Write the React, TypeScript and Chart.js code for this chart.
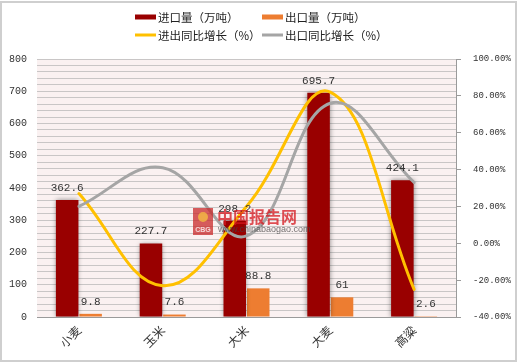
import React, { useEffect, useRef } from 'react';
import { Chart, registerables } from 'chart.js';

Chart.register(...registerables);

const categories = ['小麦', '玉米', '大米', '大麦', '高粱'];
const importVolume = [362.6, 227.7, 298.2, 695.7, 424.1];
const exportVolume = [9.8, 7.6, 88.8, 61, 2.6];
const importExportGrowth = [27, -23, 20, 82, -25];
const exportGrowth = [20, 41, 4, 76, 33];
const seriesNames = ['进口量（万吨）', '出口量（万吨）', '进出同比增长（%）', '出口同比增长（%）'];
const seriesColors = ['#990000', '#ED7D31', '#FFC000', '#A5A5A5'];
const leftAxis = { min: 0, max: 800, step: 20, labelStep: 100 };
const rightAxis = { min: -40, max: 100, step: 20 };
const watermarkTitle = '中国报告网';
const watermarkUrl = 'www.chinabaogao.com';

const CJK = '"Noto Sans CJK SC", "Noto Sans", sans-serif';
const MONO = '"Liberation Mono", "DejaVu Sans Mono", monospace';

const backgroundPlugin = {
  id: 'bgPlugin',
  beforeDraw(chart: any) {
    const { ctx, chartArea, width, height } = chart;
    ctx.save();
    ctx.fillStyle = '#ffffff';
    ctx.fillRect(0, 0, width, height);
    ctx.fillStyle = '#FAF1F1';
    ctx.fillRect(chartArea.left, chartArea.top, chartArea.right - chartArea.left, chartArea.bottom - chartArea.top);
    ctx.restore();
  },
};

const shadowPlugin = {
  id: 'shadowPlugin',
  beforeDatasetDraw(chart: any, args: any) {
    if (args.index === 0) {
      const ctx = chart.ctx;
      ctx.save();
      ctx.shadowColor = 'rgba(0,0,0,0.45)';
      ctx.shadowBlur = 5;
      ctx.shadowOffsetX = 0;
      ctx.shadowOffsetY = 0;
    }
  },
  afterDatasetDraw(chart: any, args: any) {
    if (args.index === 0) chart.ctx.restore();
  },
};

const labelPlugin = {
  id: 'labelPlugin',
  afterDatasetsDraw(chart: any) {
    const ctx = chart.ctx;
    ctx.save();
    ctx.font = '11px ' + MONO;
    ctx.fillStyle = '#333333';
    ctx.textAlign = 'center';
    ctx.textBaseline = 'middle';
    [0, 1].forEach((di) => {
      const meta = chart.getDatasetMeta(di);
      const data = chart.data.datasets[di].data as number[];
      meta.data.forEach((el: any, i: number) => {
        ctx.fillText(String(data[i]), el.x, el.y - 12);
      });
    });
    ctx.restore();
  },
};

const legendPlugin = {
  id: 'customLegend',
  afterDraw(chart: any) {
    const ctx = chart.ctx;
    ctx.save();
    ctx.font = '11.5px ' + CJK;
    ctx.textBaseline = 'middle';
    ctx.textAlign = 'left';
    const cols = [135, 262];
    const rows = [17, 35];
    seriesNames.forEach((name, i) => {
      const x = cols[i % 2];
      const y = rows[Math.floor(i / 2)];
      if (i < 2) {
        ctx.fillStyle = seriesColors[i];
        ctx.fillRect(x, y - 2.5, 21, 5);
      } else {
        ctx.strokeStyle = seriesColors[i];
        ctx.lineWidth = 3;
        ctx.beginPath();
        ctx.moveTo(x, y);
        ctx.lineTo(x + 21, y);
        ctx.stroke();
      }
      ctx.fillStyle = '#222222';
      ctx.fillText(name, x + 23, y + 0.5);
    });
    ctx.restore();
  },
};

const watermarkPlugin = {
  id: 'watermark',
  afterDraw(chart: any) {
    const ctx = chart.ctx;
    ctx.save();
    ctx.globalAlpha = 0.75;
    ctx.fillStyle = '#C8282A';
    ctx.fillRect(193, 208, 20, 27);
    ctx.fillStyle = '#F5C242';
    ctx.beginPath();
    ctx.arc(203, 217, 5, 0, Math.PI * 2);
    ctx.fill();
    ctx.fillStyle = '#ffffff';
    ctx.font = 'bold 7px "Liberation Sans", sans-serif';
    ctx.textAlign = 'center';
    ctx.textBaseline = 'middle';
    ctx.fillText('CBG', 203, 230);
    ctx.fillStyle = '#D4161C';
    ctx.font = 'bold 16px ' + CJK;
    ctx.textAlign = 'left';
    ctx.fillText(watermarkTitle, 217, 217);
    ctx.fillStyle = '#444444';
    ctx.font = '9px "Liberation Sans", sans-serif';
    ctx.fillText(watermarkUrl, 218, 230);
    ctx.restore();
  },
};

export default function App() {
  const canvasRef = useRef<HTMLCanvasElement | null>(null);

  useEffect(() => {
    if (!canvasRef.current) return;
    const chart = new Chart(canvasRef.current, {
      data: {
        labels: categories,
        datasets: [
          {
            type: 'bar',
            label: seriesNames[0],
            data: importVolume,
            backgroundColor: seriesColors[0],
            yAxisID: 'y',
            categoryPercentage: 0.56,
            barPercentage: 0.96,
            order: 2,
          },
          {
            type: 'bar',
            label: seriesNames[1],
            data: exportVolume,
            backgroundColor: seriesColors[1],
            yAxisID: 'y',
            categoryPercentage: 0.56,
            barPercentage: 0.96,
            order: 2,
          },
          {
            type: 'line',
            label: seriesNames[2],
            data: importExportGrowth,
            borderColor: seriesColors[2],
            backgroundColor: seriesColors[2],
            borderWidth: 3,
            pointRadius: 0,
            tension: 0.4,
            borderCapStyle: 'round',
            yAxisID: 'y1',
            order: 1,
          },
          {
            type: 'line',
            label: seriesNames[3],
            data: exportGrowth,
            borderColor: seriesColors[3],
            backgroundColor: seriesColors[3],
            borderWidth: 3,
            pointRadius: 0,
            tension: 0.4,
            borderCapStyle: 'round',
            yAxisID: 'y1',
            order: 0,
          },
        ],
      } as any,
      options: {
        animation: false,
        responsive: true,
        maintainAspectRatio: false,
        devicePixelRatio: 1,
        layout: { padding: { top: 59, left: 0, right: 0, bottom: 0 } },
        plugins: {
          legend: { display: false },
          tooltip: { enabled: false },
        },
        scales: {
          x: {
            grid: { display: false, drawTicks: false },
            border: { display: true, color: '#9a9a9a' },
            ticks: {
              minRotation: 45,
              maxRotation: 45,
              padding: 6,
              color: '#333333',
              font: { family: CJK, size: 12 },
            },
            afterFit: (s: any) => { s.height = 47; },
          },
          y: {
            position: 'left',
            min: leftAxis.min,
            max: leftAxis.max,
            grid: { color: '#c9c6c6', drawTicks: false },
            border: { display: false },
            ticks: {
              stepSize: leftAxis.step,
              autoSkip: false,
              padding: 10,
              color: '#333333',
              font: { family: MONO, size: 10 },
              callback: (v: any) => (Number(v) % leftAxis.labelStep === 0 ? String(v) : ''),
            },
            afterFit: (s: any) => { s.width = 37; },
          },
          y1: {
            position: 'right',
            min: rightAxis.min,
            max: rightAxis.max,
            grid: { drawOnChartArea: false, tickLength: 5, color: '#9a9a9a' },
            border: { display: true, color: '#9a9a9a' },
            ticks: {
              stepSize: rightAxis.step,
              padding: 12,
              color: '#333333',
              font: { family: MONO, size: 9 },
              callback: (v: any) => Number(v).toFixed(2) + '%',
            },
            afterFit: (s: any) => { s.width = 64; },
          },
        },
      } as any,
      plugins: [backgroundPlugin, shadowPlugin, labelPlugin, watermarkPlugin, legendPlugin],
    });
    return () => chart.destroy();
  }, []);

  return (
    <div style={{ position: 'absolute', left: 0, top: 0, width: 520, height: 364, background: '#fff' }}>
      <canvas ref={canvasRef} />
      <div
        style={{
          position: 'absolute',
          left: 0,
          top: 1,
          width: 517,
          height: 361,
          boxSizing: 'border-box',
          border: '2px solid #cfcfcf',
          pointerEvents: 'none',
        }}
      />
    </div>
  );
}
